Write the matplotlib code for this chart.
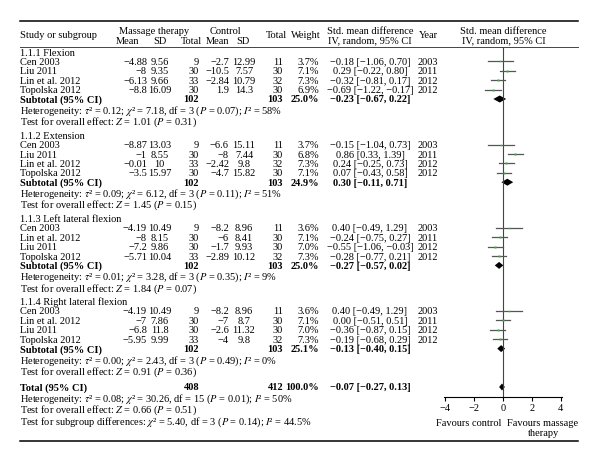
import numpy as np
import matplotlib
matplotlib.use('Agg')
import matplotlib.pyplot as plt

plt.rcParams['font.family'] = ['Liberation Serif', 'DejaVu Serif']
plt.rcParams['mathtext.fontset'] = 'stix'

# ---- data ----
groups = ['1.1.1 Flexion', '1.1.2 Extension', '1.1.3 Left lateral flexion', '1.1.4 Right lateral flexion']
studies = [
    ['Cen 2003', 'Liu 2011', 'Lin et al. 2012', 'Topolska 2012'],
    ['Cen 2003', 'Liu 2011', 'Lin et al. 2012', 'Topolska 2012'],
    ['Cen 2003', 'Lin et al. 2012', 'Liu 2011', 'Topolska 2012'],
    ['Cen 2003', 'Lin et al. 2012', 'Liu 2011', 'Topolska 2012'],
]
mt_mean = [[-4.88, -8, -6.13, -8.8], [-8.87, -1, -0.01, -3.5],
           [-4.19, -8, -7.2, -5.71], [-4.19, -7, -6.8, -5.95]]
mt_sd = [[9.56, 9.35, 9.66, 16.09], [13.03, 8.55, 10, 15.97],
         [10.49, 8.15, 9.86, 10.04], [10.49, 7.86, 11.8, 9.99]]
mt_n = [[9, 30, 33, 30], [9, 30, 33, 30], [9, 30, 30, 33], [9, 30, 30, 33]]
ct_mean = [[-2.7, -10.5, -2.84, 1.9], [-6.6, -8, -2.42, -4.7],
           [-8.2, -6, -1.7, -2.89], [-8.2, -7, -2.6, -4]]
ct_sd = [[12.99, 7.57, 10.79, 14.3], [15.11, 7.44, 9.8, 15.82],
         [8.96, 8.41, 9.93, 10.12], [8.96, 8.7, 11.32, 9.8]]
ct_n = [[11, 30, 32, 30], [11, 30, 32, 30], [11, 30, 30, 32], [11, 30, 30, 32]]
weight = [[3.7, 7.1, 7.3, 6.9], [3.7, 6.8, 7.3, 7.1], [3.6, 7.1, 7.0, 7.3], [3.6, 7.1, 7.0, 7.3]]
smd = [[-0.18, 0.29, -0.32, -0.69], [-0.15, 0.86, 0.24, 0.07],
       [0.40, -0.24, -0.55, -0.28], [0.40, 0.00, -0.36, -0.19]]
lo = [[-1.06, -0.22, -0.81, -1.22], [-1.04, 0.33, -0.25, -0.43],
      [-0.49, -0.75, -1.06, -0.77], [-0.49, -0.51, -0.87, -0.68]]
hi = [[0.70, 0.80, 0.17, -0.17], [0.73, 1.39, 0.73, 0.58],
      [1.29, 0.27, -0.03, 0.21], [1.29, 0.51, 0.15, 0.29]]
years = [[2003, 2011, 2012, 2012], [2003, 2011, 2012, 2012],
         [2003, 2011, 2012, 2012], [2003, 2011, 2012, 2012]]

sub_mt_n = [102, 102, 102, 102]
sub_ct_n = [103, 103, 103, 103]
sub_w = [25.0, 24.9, 25.0, 25.1]
sub_smd = [-0.23, 0.30, -0.27, -0.13]
sub_lo = [-0.67, -0.11, -0.57, -0.40]
sub_hi = [0.22, 0.71, 0.02, 0.15]
het_tau2 = ['0.12', '0.09', '0.01', '0.00']
het_chi2 = ['7.18', '6.12', '3.28', '2.43']
het_df = [3, 3, 3, 3]
het_p = ['0.07', '0.11', '0.35', '0.49']
het_i2 = ['58%', '51%', '9%', '0%']
ovr_z = ['1.01', '1.45', '1.84', '0.91']
ovr_p = ['0.31', '0.15', '0.07', '0.36']

tot_mt_n, tot_ct_n, tot_w = 408, 412, 100.0
tot_smd, tot_lo, tot_hi = -0.07, -0.27, 0.13
tot_het = ('0.08', '30.26', 15, '0.01', '50%')
tot_z = ('0.66', '0.51')
subgrp = ('5.40', 3, '0.14', '44.5%')

xticks = [-4, -2, 0, 2, 4]

HET = 'Heterogeneity: $\\tau$\u00b2 = %s; $\\chi$\u00b2 = %s, df = %d ($P$ = %s); $I$\u00b2 = %s'
OVR = 'Test for overall effect: $Z$ = %s ($P$ = %s)'
SUB = 'Test for subgroup differences: $\\chi$\u00b2 = %s, df = %d ($P$ = %s); $I$\u00b2 = %s'


def num(v):
    return f"{v:g}".replace('-', '\u2212')


def ci(m, a, b):
    return f"{m:.2f} [{a:.2f}, {b:.2f}]".replace('-', '\u2212')


# ---- layout (pixel coordinates) ----
W, H = 600, 462
fig = plt.figure(figsize=(6, 4.62), dpi=100)
tab = fig.add_axes([0, 0, 1, 1])
tab.set_xlim(0, W)
tab.set_ylim(H, 0)
tab.axis('off')

fs = 7.5
x_name, x_mm, x_msd, x_mn = 20, 147, 159.5, 199
x_cm, x_csd, x_cn, x_w, x_ci, x_yr = 229, 244, 283, 319, 370, 428
ax_top, ax_bot = 47, 397


def txt(x, y, s, ha='left', bold=False, size=fs):
    tab.text(x, y, s, ha=ha, va='center_baseline', fontsize=size,
             fontweight='bold' if bold else 'normal')


# header
tab.plot([20, 578], [20.5, 20.5], color='black', lw=1.1)
tab.plot([20, 578], [ax_top, ax_top], color='#444444', lw=0.7)
txt(x_name, 34.5, 'Study or subgroup')
txt(154, 30.5, 'Massage therapy', ha='center')
txt(128, 40, 'Mean', ha='center')
txt(160, 40, 'SD', ha='center')
txt(191, 40, 'Total', ha='center')
txt(225, 30.5, 'Control', ha='center')
txt(218, 40, 'Mean', ha='center')
txt(243, 40, 'SD', ha='center')
txt(276, 34.5, 'Total', ha='center')
txt(306, 34.5, 'Weight', ha='center')
txt(x_ci, 30.5, 'Std. mean difference', ha='center')
txt(x_ci, 40, 'IV, random, 95% CI', ha='center')
txt(x_yr, 34.5, 'Year', ha='center')
txt(503, 30.5, 'Std. mean difference', ha='center')
txt(504, 40, 'IV, random, 95% CI', ha='center')

# forest axes
fx = fig.add_axes([444 / W, 1 - ax_bot / H, 118 / W, (ax_bot - ax_top) / H])
fx.set_xlim(-4.1, 4.1)
fx.set_ylim(ax_bot, ax_top)
fx.patch.set_alpha(0)
for sp in ('top', 'right', 'left'):
    fx.spines[sp].set_visible(False)
fx.spines['bottom'].set_linewidth(0.8)
fx.set_yticks([])
fx.set_xticks(xticks)
fx.set_xticklabels([num(t) for t in xticks], fontsize=fs)
fx.tick_params(axis='x', length=3, width=0.8, pad=2, direction='out')
fx.axvline(0, color='#444444', lw=0.8)


def diamond(y, m, a, b):
    fx.fill([a, m, b, m], [y, y - 3.5, y, y + 3.5], color='black', lw=0)


pitch = 9.4
for g in range(4):
    y0 = 52 + 83.2 * g
    txt(x_name, y0, groups[g])
    for k in range(4):
        y = y0 + pitch * (k + 1)
        txt(x_name, y, studies[g][k])
        txt(x_mm, y, num(mt_mean[g][k]), ha='right')
        txt(x_msd, y, num(mt_sd[g][k]), ha='center')
        txt(x_mn, y, str(mt_n[g][k]), ha='right')
        txt(x_cm, y, num(ct_mean[g][k]), ha='right')
        txt(x_csd, y, num(ct_sd[g][k]), ha='center')
        txt(x_cn, y, str(ct_n[g][k]), ha='right')
        txt(x_w, y, f"{weight[g][k]:.1f}%", ha='right')
        txt(x_ci, y, ci(smd[g][k], lo[g][k], hi[g][k]), ha='center')
        txt(x_yr, y, str(years[g][k]), ha='center')
        fx.plot([lo[g][k], hi[g][k]], [y, y], color='#555555', lw=0.9)
        fx.plot(smd[g][k], y, 's', color='#3cb043', mec='none',
                ms=0.6 + 0.13 * weight[g][k])
    y = y0 + pitch * 5
    txt(x_name, y, 'Subtotal (95% CI)', bold=True)
    txt(x_mn, y, str(sub_mt_n[g]), ha='right', bold=True)
    txt(x_cn, y, str(sub_ct_n[g]), ha='right', bold=True)
    txt(x_w, y, f"{sub_w[g]:.1f}%", ha='right', bold=True)
    txt(x_ci, y, ci(sub_smd[g], sub_lo[g], sub_hi[g]), ha='center', bold=True)
    diamond(y, sub_smd[g], sub_lo[g], sub_hi[g])
    txt(x_name, y + 10.2,
        HET % (het_tau2[g], het_chi2[g], het_df[g], het_p[g], het_i2[g]))
    txt(x_name, y + 21.3, OVR % (ovr_z[g], ovr_p[g]))

# total
yt = 387
txt(x_name, yt, 'Total (95% CI)', bold=True)
txt(x_mn, yt, str(tot_mt_n), ha='right', bold=True)
txt(x_cn, yt, str(tot_ct_n), ha='right', bold=True)
txt(x_w, yt, f"{tot_w:.1f}%", ha='right', bold=True)
txt(x_ci, yt, ci(tot_smd, tot_lo, tot_hi), ha='center', bold=True)
diamond(yt, tot_smd, tot_lo, tot_hi)
txt(x_name, yt + 10.6, HET % tot_het)
txt(x_name, yt + 21.6, OVR % tot_z)
txt(x_name, yt + 33.2, SUB % subgrp)

txt(469, 422.7, 'Favours control', ha='center')
txt(543, 422.7, 'Favours massage', ha='center')
txt(543, 432, 'therapy', ha='center')

tab.plot([20, 578], [441, 441], color='black', lw=1.1)

fig.savefig('out.png', dpi=100)
